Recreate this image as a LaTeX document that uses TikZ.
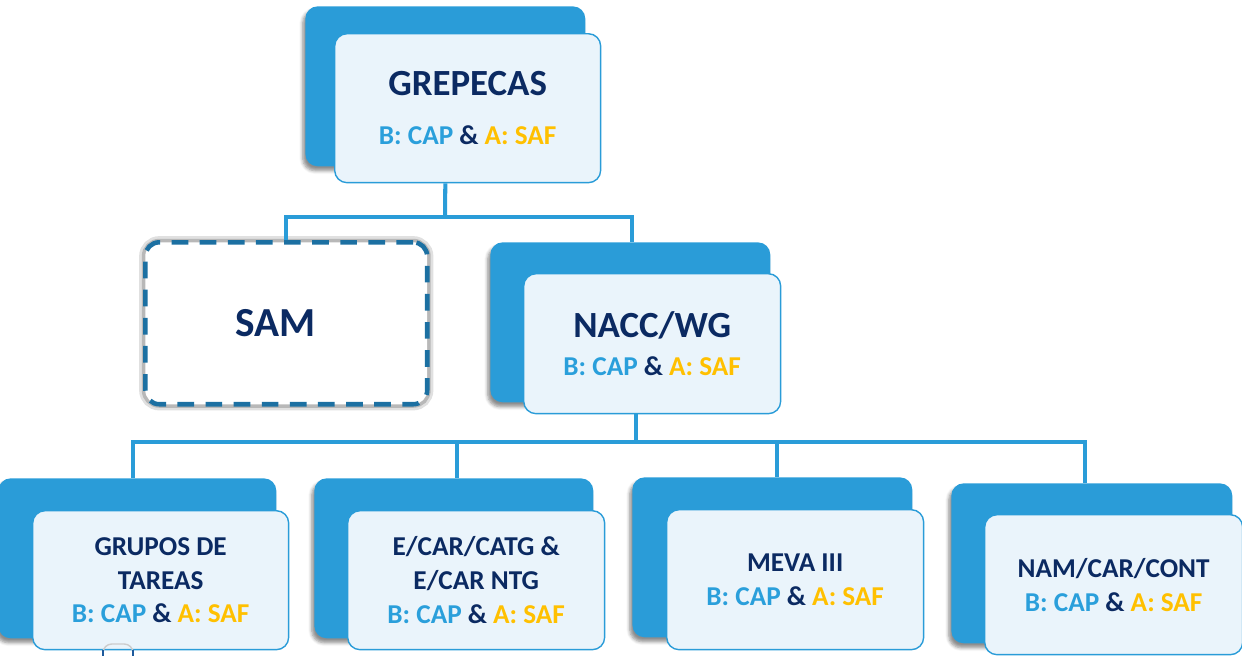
\documentclass[tikz,border=0pt]{standalone}
\usepackage{fontspec}
\setmainfont{Carlito}
\usepackage{tikz}
\usetikzlibrary{shadows.blur}
\definecolor{boxblue}{HTML}{2A9CD8}
\definecolor{boxfill}{HTML}{EAF4FB}
\definecolor{navy}{HTML}{0B2A62}
\definecolor{capblue}{HTML}{2A9FDB}
\definecolor{safyellow}{HTML}{FFC000}
\definecolor{samblue}{HTML}{1C70A2}
\definecolor{tailblue}{HTML}{1E5A9C}
\newcommand{\capsaf}{{\color{capblue}B: CAP} \& {\color{safyellow}A: SAF}}
\newcommand{\bigtitle}[1]{{\fontsize{21}{25}\selectfont #1}}

\begin{document}
\begin{tikzpicture}[x=0.02cm, y=-0.02cm]
	\tikzstyle{backbox} = [fill=boxblue, rounded corners=7pt, anchor=north west, inner sep=0pt, minimum width=5.6cm, minimum height=3.2cm, blur shadow={shadow xshift=-1.5pt, shadow yshift=-2.5pt, shadow blur steps=5, shadow opacity=45}]
	\tikzstyle{frontbox} = [fill=boxfill, draw=boxblue, line width=0.8pt, rounded corners=7pt, anchor=north west, inner sep=0pt, minimum width=5.14cm, minimum height=2.8cm, align=center, text=navy, font=\bfseries\fontsize{15.5}{19.3}\selectfont]
	\tikzstyle{dashbox} = [draw=samblue, fill=white, line width=2.6pt, dash pattern=on 9.5pt off 6.5pt, rounded corners=8pt, anchor=north west, minimum width=5.64cm, minimum height=3.24cm, text=navy, font=\bfseries\fontsize{23.5}{27}\selectfont, preaction={draw=black!12, line width=7pt, solid}, preaction={draw=black!28, line width=4pt, solid}]
	\tikzstyle{link} = [draw=boxblue, line width=2.3pt]
	\useasboundingbox (0,0) rectangle (1242,656);
		\node[backbox] (grepB) at (305,6) {};
		\node[frontbox, minimum width=5.32cm, minimum height=2.98cm] (grep) at (334,33) {\bigtitle{GREPECAS}\\[8.7pt]\capsaf};
		\node[dashbox] (sam) at (143,240) {SAM\kern0.44cm};
		\node[backbox] (naccB) at (490,242) {};
		\node[frontbox] (nacc) at (523,273) {\bigtitle{NACC/WG}\\[2.7pt]\capsaf};
		\node[backbox, minimum width=5.56cm] (grpB) at (-2,478) {};
		\node[frontbox, minimum width=5.12cm, minimum height=2.78cm] (grp) at (32,510) {GRUPOS DE\\TAREAS\\\capsaf};
		\node[backbox, minimum width=5.58cm] (ecarB) at (314,478) {};
		\node[frontbox, minimum height=2.78cm] (ecar) at (347,510) {E/CAR/CATG \&\\E/CAR NTG\\\capsaf};
		\node[backbox] (mevaB) at (632,477) {};
		\node[frontbox] (meva) at (666,509) {MEVA III\\\capsaf};
		\node[backbox, minimum width=5.62cm] (namB) at (951,483) {};
		\node[frontbox, minimum width=5.16cm] (nam) at (984,514) {NAM/CAR/CONT\\\capsaf};
		\coordinate (j1) at (445,217);
		\coordinate (j2) at (636,442);
	\draw[link] (grep.south -| grepB.south) -- (j1);
	\draw[link] (sam.north) |- (j1) -| ([xshift=0.04cm]naccB.north);
	\draw[link] (nacc.south -| j2) -- (j2);
	\draw[link] ([xshift=-0.08cm]grpB.north) |- (j2) -| ([xshift=-0.14cm]namB.north);
	\draw[link] ([xshift=0.06cm]ecarB.north) |- (j2);
	\draw[link] ([xshift=0.1cm]mevaB.north) |- (j2);
	\draw[gray!40, line width=0.8pt, rounded corners=5pt] (103,651) -- (103,644) -- (133,644) -- (133,651);
	\draw[tailblue, line width=1pt] (103,650) -- (103,658) (133,650) -- (133,658);
\end{tikzpicture}
\end{document}
